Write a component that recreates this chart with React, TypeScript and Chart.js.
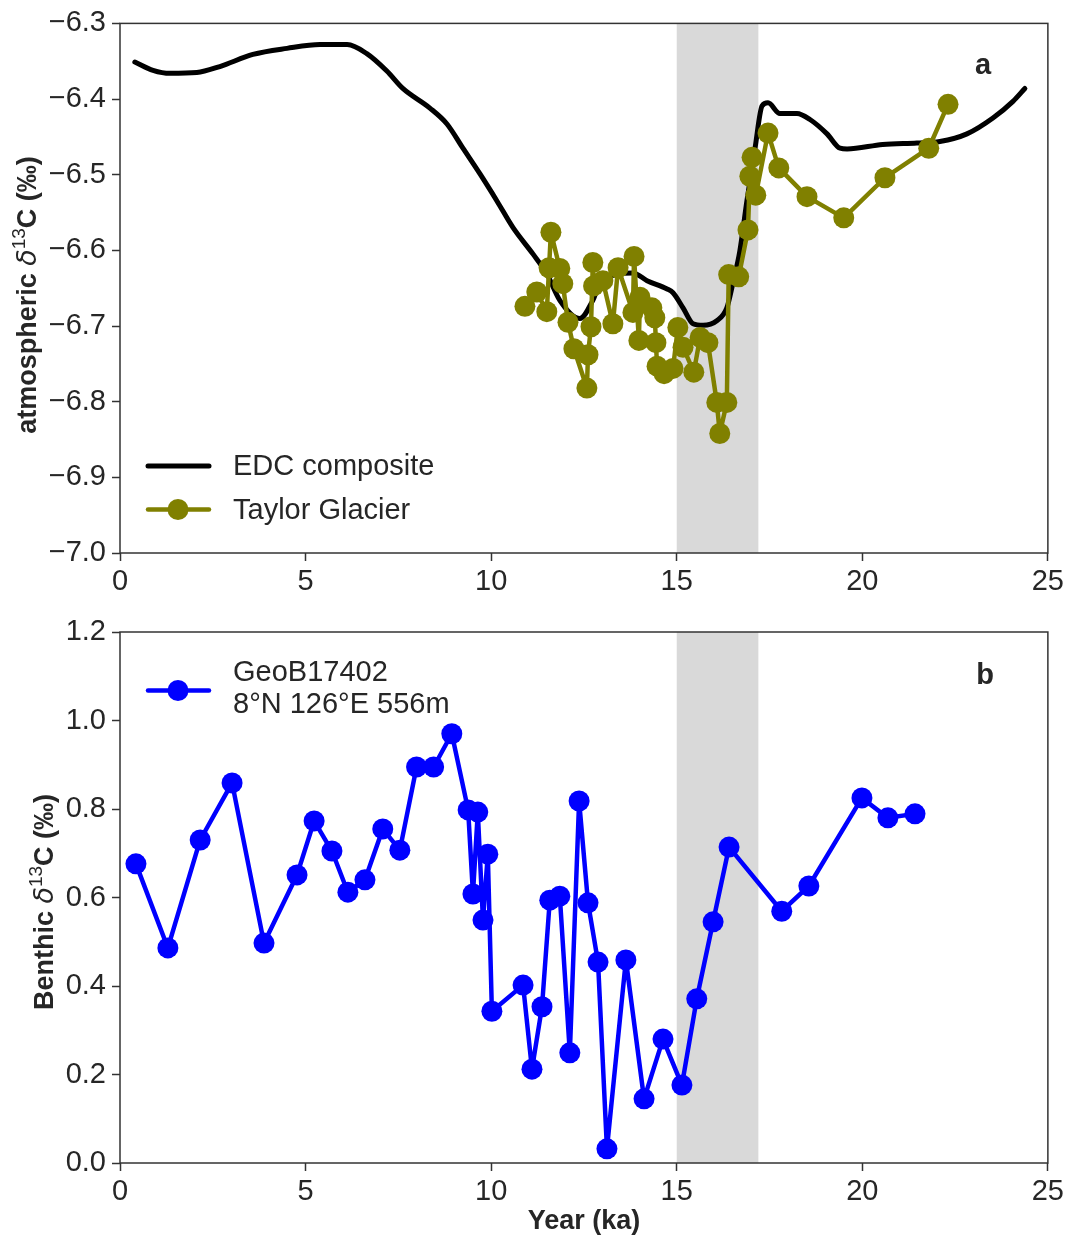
import React, { useEffect, useRef } from 'react';
import { Chart, registerables } from 'chart.js';

Chart.register(...registerables);

const FONT = '"Liberation Sans", Arial, Helvetica, sans-serif';
const TEXT = '#262626';
const AXIS = '#333333';
const OLIVE = '#808000';
const BLUE = '#0000ff';
const SHADE = '#d9d9d9';

// ---- Data (ages in ka) ----
const edcAge = [0.40, 0.89, 1.35, 2.07, 2.69, 3.58, 4.50, 5.39, 6.12, 6.65, 7.19, 7.62, 8.35, 8.81, 9.24, 9.70, 10.16, 10.59, 11.13, 11.50, 11.85, 12.39, 12.74, 12.93, 13.82, 14.20, 14.74, 14.90, 15.17, 15.44, 15.71, 16.08, 16.35, 16.51, 16.70, 16.89, 17.11, 17.30, 17.46, 17.78, 18.24, 18.59, 19.05, 19.40, 19.59, 20.55, 21.47, 22.09, 22.82, 23.52, 24.06, 24.38];
const edcValue = [-6.351, -6.362, -6.366, -6.365, -6.357, -6.341, -6.333, -6.328, -6.328, -6.340, -6.363, -6.386, -6.412, -6.433, -6.465, -6.499, -6.535, -6.570, -6.605, -6.631, -6.666, -6.690, -6.666, -6.644, -6.630, -6.640, -6.651, -6.656, -6.676, -6.697, -6.699, -6.693, -6.676, -6.644, -6.601, -6.535, -6.465, -6.409, -6.405, -6.419, -6.419, -6.427, -6.446, -6.465, -6.466, -6.460, -6.458, -6.456, -6.446, -6.425, -6.403, -6.386];

const taylorAge = [10.91, 11.23, 11.50, 11.56, 11.61, 11.85, 11.93, 12.07, 12.23, 12.58, 12.61, 12.69, 12.74, 12.76, 13.01, 13.28, 13.42, 13.82, 13.85, 13.98, 14.01, 14.33, 14.41, 14.44, 14.47, 14.66, 14.90, 15.03, 15.17, 15.46, 15.63, 15.84, 16.08, 16.16, 16.35, 16.40, 16.67, 16.92, 16.97, 17.03, 17.13, 17.46, 17.75, 18.51, 19.50, 20.61, 21.79, 22.31];
const taylorValue = [-6.674, -6.655, -6.681, -6.623, -6.576, -6.624, -6.644, -6.695, -6.730, -6.782, -6.738, -6.701, -6.616, -6.647, -6.640, -6.697, -6.623, -6.682, -6.608, -6.719, -6.662, -6.676, -6.689, -6.722, -6.753, -6.763, -6.756, -6.702, -6.728, -6.761, -6.715, -6.722, -6.801, -6.842, -6.801, -6.632, -6.635, -6.573, -6.502, -6.477, -6.527, -6.445, -6.491, -6.529, -6.557, -6.504, -6.465, -6.407];

const benthicAge = [0.43, 1.29, 2.16, 3.02, 3.88, 4.77, 5.23, 5.71, 6.14, 6.60, 7.08, 7.54, 7.99, 8.45, 8.94, 9.38, 9.51, 9.64, 9.78, 9.91, 10.02, 10.86, 11.10, 11.37, 11.58, 11.85, 12.12, 12.37, 12.61, 12.88, 13.12, 13.63, 14.12, 14.63, 15.14, 15.54, 15.98, 16.41, 17.83, 18.56, 19.99, 20.69, 21.42];
const benthicValue = [0.676, 0.486, 0.730, 0.859, 0.497, 0.651, 0.773, 0.705, 0.612, 0.640, 0.755, 0.707, 0.895, 0.895, 0.970, 0.798, 0.608, 0.793, 0.549, 0.698, 0.343, 0.402, 0.212, 0.353, 0.594, 0.603, 0.249, 0.818, 0.588, 0.454, 0.032, 0.459, 0.145, 0.280, 0.176, 0.371, 0.545, 0.714, 0.569, 0.626, 0.825, 0.780, 0.789];

const shadeRange = [15, 17.2];
const xRange = [0, 25];
const topYRange = [-7.0, -6.3];
const bottomYRange = [0.0, 1.2];

type Seg = { t: string; font: string; dy?: number };

function drawRich(ctx: CanvasRenderingContext2D, segs: Seg[], x: number, y: number, rotate: boolean) {
  ctx.save();
  ctx.translate(x, y);
  if (rotate) ctx.rotate(-Math.PI / 2);
  let total = 0;
  for (const s of segs) { ctx.font = s.font; total += ctx.measureText(s.t).width; }
  let cx = -total / 2;
  ctx.textBaseline = 'alphabetic';
  ctx.textAlign = 'left';
  ctx.fillStyle = TEXT;
  for (const s of segs) {
    ctx.font = s.font;
    ctx.fillText(s.t, cx, 9.5 + (s.dy || 0));
    cx += ctx.measureText(s.t).width;
  }
  ctx.restore();
}

const fmt1 = (v: number) => (v < -1e-9 ? '\u2212' : '') + Math.abs(v).toFixed(1);

function makeOptions(yMin: number, yMax: number, yStep: number, padTop: number, xAxisHeight: number) {
  const grid = { display: true, drawOnChartArea: false, drawTicks: true, tickLength: 8, tickWidth: 1.5, tickColor: AXIS, color: AXIS };
  return {
    responsive: false,
    animation: false as const,
    events: [] as any[],
    layout: { padding: { top: padTop, right: 20, left: 0, bottom: 0 } },
    plugins: { legend: { display: false }, tooltip: { enabled: false }, title: { display: false } },
    scales: {
      x: {
        type: 'linear' as const,
        min: xRange[0], max: xRange[1],
        afterFit: (s: any) => { s.height = xAxisHeight; },
        ticks: { stepSize: 5, font: { family: FONT, size: 29 }, color: TEXT, padding: 4, maxRotation: 0, callback: (v: any) => String(v) },
        grid,
        border: { display: false },
      },
      y: {
        type: 'linear' as const,
        min: yMin, max: yMax,
        afterFit: (s: any) => { s.width = 120; },
        ticks: { stepSize: yStep, font: { family: FONT, size: 29 }, color: TEXT, padding: 6, callback: (v: any) => fmt1(Number(v)) },
        grid,
        border: { display: false },
      },
    },
  };
}

const shadePlugin = {
  id: 'shadeSpan',
  beforeDatasetsDraw(chart: any) {
    const { ctx, chartArea, scales } = chart;
    const x0 = scales.x.getPixelForValue(shadeRange[0]);
    const x1 = scales.x.getPixelForValue(shadeRange[1]);
    ctx.save();
    ctx.fillStyle = SHADE;
    ctx.fillRect(x0, chartArea.top, x1 - x0, chartArea.bottom - chartArea.top);
    ctx.restore();
  },
};

const boxPlugin = {
  id: 'axisBox',
  afterDraw(chart: any) {
    const { ctx, chartArea } = chart;
    ctx.save();
    ctx.strokeStyle = AXIS;
    ctx.lineWidth = 1.5;
    ctx.strokeRect(chartArea.left, chartArea.top, chartArea.right - chartArea.left, chartArea.bottom - chartArea.top);
    ctx.restore();
  },
};

function legendLine(ctx: CanvasRenderingContext2D, color: string, y: number, marker: boolean, w: number) {
  ctx.save();
  ctx.strokeStyle = color;
  ctx.lineWidth = w;
  ctx.lineCap = 'round';
  ctx.beginPath();
  ctx.moveTo(148, y);
  ctx.lineTo(209, y);
  ctx.stroke();
  if (marker) {
    ctx.fillStyle = color;
    ctx.beginPath();
    ctx.arc(178, y, 10.5, 0, Math.PI * 2);
    ctx.fill();
  }
  ctx.restore();
}

function legendText(ctx: CanvasRenderingContext2D, text: string, y: number) {
  ctx.save();
  ctx.fillStyle = TEXT;
  ctx.font = `29px ${FONT}`;
  ctx.textAlign = 'left';
  ctx.textBaseline = 'middle';
  ctx.fillText(text, 233, y);
  ctx.restore();
}

const topDecor = {
  id: 'topDecor',
  afterDraw(chart: any) {
    const ctx = chart.ctx as CanvasRenderingContext2D;
    legendLine(ctx, '#000000', 466, false, 5);
    legendText(ctx, 'EDC composite', 467);
    legendLine(ctx, OLIVE, 509.5, true, 4.5);
    legendText(ctx, 'Taylor Glacier', 511);
    ctx.save();
    ctx.fillStyle = TEXT;
    ctx.font = `bold 29px ${FONT}`;
    ctx.textAlign = 'center';
    ctx.textBaseline = 'middle';
    ctx.fillText('a', 983, 66);
    ctx.restore();
    drawRich(ctx, [
      { t: 'atmospheric ', font: `bold 27px ${FONT}` },
      { t: '\u03b4', font: `italic 27px "DejaVu Sans", sans-serif` },
      { t: '13', font: `19px ${FONT}`, dy: -11 },
      { t: 'C (\u2030)', font: `bold 27px ${FONT}` },
    ], 26, 295, true);
  },
};

const bottomDecor = {
  id: 'bottomDecor',
  afterDraw(chart: any) {
    const ctx = chart.ctx as CanvasRenderingContext2D;
    legendLine(ctx, BLUE, 90.5, true, 4.5);
    legendText(ctx, 'GeoB17402', 73);
    legendText(ctx, '8\u00b0N 126\u00b0E 556m', 105);
    ctx.save();
    ctx.fillStyle = TEXT;
    ctx.font = `bold 29px ${FONT}`;
    ctx.textAlign = 'center';
    ctx.textBaseline = 'middle';
    ctx.fillText('b', 985, 76);
    ctx.restore();
    drawRich(ctx, [
      { t: 'Benthic ', font: `bold 27px ${FONT}` },
      { t: '\u03b4', font: `italic 27px "DejaVu Sans", sans-serif` },
      { t: '13', font: `19px ${FONT}`, dy: -11 },
      { t: 'C (\u2030)', font: `bold 27px ${FONT}` },
    ], 43, 302, true);
    drawRich(ctx, [{ t: 'Year (ka)', font: `bold 27px ${FONT}` }], 584, 619, false);
  },
};

export default function App() {
  const topRef = useRef<HTMLCanvasElement>(null);
  const botRef = useRef<HTMLCanvasElement>(null);

  useEffect(() => {
    const top = new Chart(topRef.current as HTMLCanvasElement, {
      type: 'line',
      data: {
        datasets: [
          {
            label: 'Taylor Glacier',
            data: taylorAge.map((x, i) => ({ x, y: taylorValue[i] })),
            borderColor: OLIVE,
            backgroundColor: OLIVE,
            borderWidth: 4.5,
            borderJoinStyle: 'round',
            borderCapStyle: 'round',
            pointRadius: 10.5,
            pointBorderWidth: 0,
            pointBackgroundColor: OLIVE,
            tension: 0,
            order: 1,
          },
          {
            label: 'EDC composite',
            data: edcAge.map((x, i) => ({ x, y: edcValue[i] })),
            borderColor: '#000000',
            borderWidth: 5,
            pointRadius: 0,
            cubicInterpolationMode: 'monotone',
            borderJoinStyle: 'round',
            borderCapStyle: 'round',
            order: 2,
          },
        ],
      } as any,
      options: makeOptions(topYRange[0], topYRange[1], 0.1, 22, 47) as any,
      plugins: [shadePlugin, boxPlugin, topDecor],
    });

    const bottom = new Chart(botRef.current as HTMLCanvasElement, {
      type: 'line',
      data: {
        datasets: [
          {
            label: 'GeoB17402 8°N 126°E 556m',
            data: benthicAge.map((x, i) => ({ x, y: benthicValue[i] })),
            borderColor: BLUE,
            backgroundColor: BLUE,
            borderWidth: 4.5,
            borderJoinStyle: 'round',
            borderCapStyle: 'round',
            pointRadius: 10.5,
            pointBorderWidth: 0,
            pointBackgroundColor: BLUE,
            tension: 0,
          },
        ],
      } as any,
      options: makeOptions(bottomYRange[0], bottomYRange[1], 0.2, 32, 74) as any,
      plugins: [shadePlugin, boxPlugin, bottomDecor],
    });

    return () => {
      top.destroy();
      bottom.destroy();
    };
  }, []);

  return (
    <div style={{ position: 'absolute', left: 0, top: 0, width: 1068, height: 1237, background: '#ffffff' }}>
      <canvas ref={topRef} width={1068} height={600} style={{ position: 'absolute', left: 0, top: 0 }} />
      <canvas ref={botRef} width={1068} height={637} style={{ position: 'absolute', left: 0, top: 600 }} />
    </div>
  );
}
